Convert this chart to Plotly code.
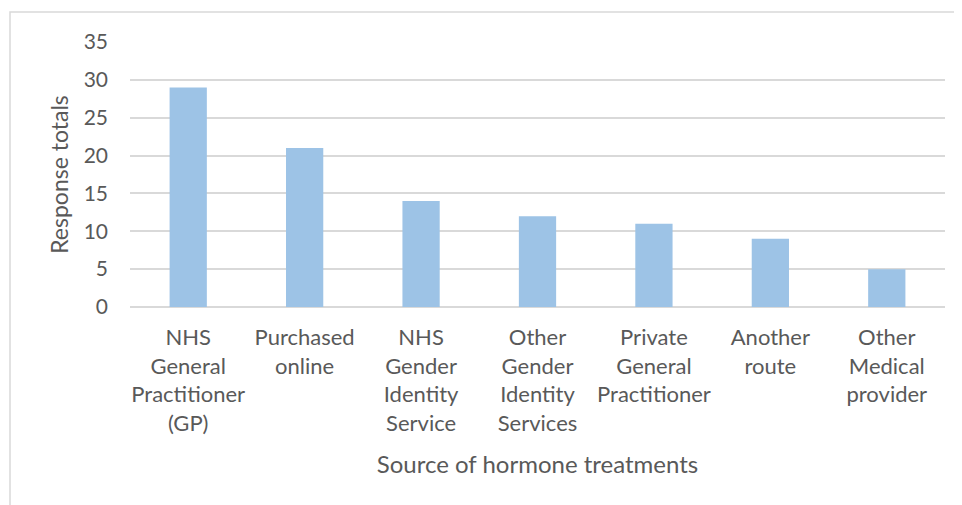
import plotly.graph_objects as go

categories = ["NHS<br>General<br>Practitioner<br>(GP)", "Purchased<br>online", "NHS<br>Gender<br>Identity<br>Service",
              "Other<br>Gender<br>Identity<br>Services", "Private<br>General<br>Practitioner", "Another<br>route",
              "Other<br>Medical<br>provider"]
values = [29, 21, 14, 12, 11, 9, 5]
y_ticks = [0, 5, 10, 15, 20, 25, 30, 35]

FONT = "Lato"
TXT = "#595959"

fig = go.Figure(go.Bar(x=categories, y=values, marker=dict(color="#9DC3E6", line=dict(width=0)), width=0.32))

OFF = 8  # page body offset
W, H = 962 - OFF, 505 - OFF
L, T = 130 - OFF, 42 - OFF
R = W - (945 - OFF)
B = H - (307 - OFF)
pw, ph = W - L - R, H - T - B

fig.update_layout(
    width=W, height=H,
    margin=dict(l=L, r=R, t=T, b=B),
    paper_bgcolor="white", plot_bgcolor="white",
    font=dict(family=FONT, color=TXT, size=22),
    showlegend=False,
    xaxis=dict(showgrid=False, showline=False, ticks="", tickfont=dict(size=22, color=TXT),
               ticklabelstandoff=15,
               title=dict(text="Source of hormone treatments", font=dict(size=24, color=TXT), standoff=21)),
    yaxis=dict(range=[0, 35], tickvals=y_ticks, showgrid=True, gridcolor="#D9D9D9", gridwidth=1.5,
               zeroline=True, zerolinecolor="#D9D9D9", zerolinewidth=1.5, showline=False, ticks="",
               tickfont=dict(size=21, color=TXT), ticklabelstandoff=21,
               title=dict(text="Response totals", font=dict(size=23, color=TXT), standoff=8)),
    shapes=[dict(type="rect", xref="paper", yref="paper",
                 x0=(10 - 130) / pw, x1=(975 - 130) / pw,
                 y0=-1.0, y1=1 + (42 - 12) / ph,
                 line=dict(color="#D9D9D9", width=1.5), fillcolor="rgba(0,0,0,0)", layer="below")],
)

fig.write_html("out.html")
